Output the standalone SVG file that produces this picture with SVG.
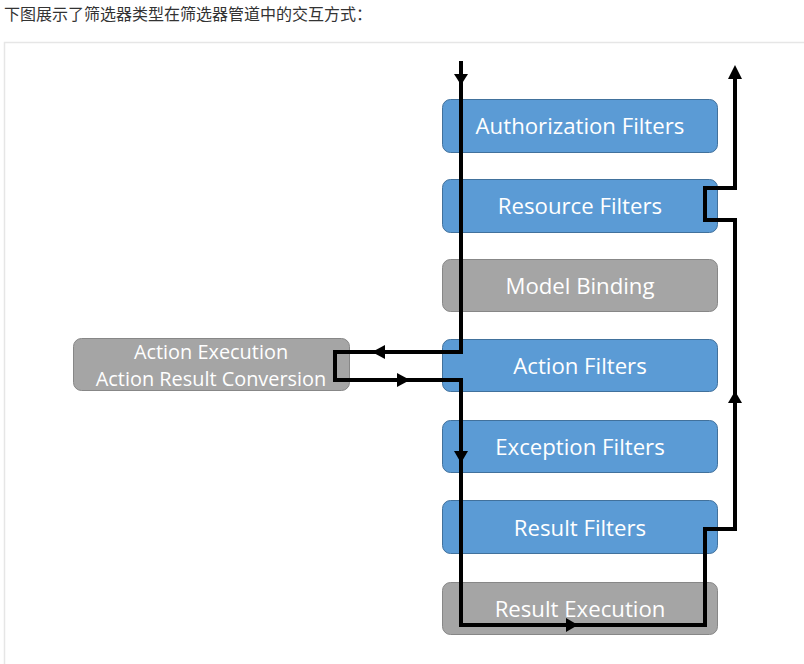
<svg xmlns="http://www.w3.org/2000/svg" width="804" height="664" viewBox="0 0 804 664">
<style>
.blue{fill:#5B9BD5;stroke:#41719C;stroke-width:1}
.gray{fill:#A5A5A5;stroke:#878787;stroke-width:1}
.lbl{font-family:"Open Sans","Noto Sans","Liberation Sans",sans-serif;font-size:22.2px;fill:#fff;text-anchor:middle}
.lbl2{font-family:"Open Sans","Noto Sans","Liberation Sans",sans-serif;font-size:19.9px;fill:#fff;text-anchor:middle}
.flow{fill:none;stroke:#000;stroke-width:4;stroke-linejoin:miter}
</style>
<rect x="0" y="0" width="804" height="664" fill="#fff"/>
<rect x="4.5" y="42.5" width="820" height="640" fill="#fff" stroke="#e6e6e6" stroke-width="1.5"/>
<text x="4" y="20" font-family="'Noto Sans CJK SC',sans-serif" font-size="16" fill="#333">下图展示了筛选器类型在筛选器管道中的交互方式：</text>

<g id="authorization"><rect class="blue" x="442.5" y="99.5" width="275" height="53" rx="8"/><text class="lbl" x="580" y="134">Authorization Filters</text></g>
<g id="resource"><rect class="blue" x="442.5" y="179.5" width="275" height="53" rx="8"/><text class="lbl" x="580" y="214">Resource Filters</text></g>
<g id="model"><rect class="gray" x="442.5" y="259.5" width="275" height="52" rx="8"/><text class="lbl" x="580" y="294">Model Binding</text></g>
<g id="action"><rect class="blue" x="442.5" y="339.5" width="275" height="52" rx="8"/><text class="lbl" x="580" y="374">Action Filters</text></g>
<g id="exception"><rect class="blue" x="442.5" y="420.5" width="275" height="52" rx="8"/><text class="lbl" x="580" y="455">Exception Filters</text></g>
<g id="resultfilters"><rect class="blue" x="442.5" y="500.5" width="275" height="53" rx="8"/><text class="lbl" x="580" y="536">Result Filters</text></g>
<g id="resultexec"><rect class="gray" x="442.5" y="582.5" width="275" height="52" rx="8"/><text class="lbl" x="580" y="617">Result Execution</text></g>
<g id="actionexec"><rect class="gray" x="73.5" y="338.5" width="276" height="52" rx="8"/><text class="lbl2" x="211" y="359">Action Execution</text><text class="lbl2" x="211" y="386">Action Result Conversion</text></g>

<g id="connectors">
<path class="flow" d="M461,61 L461,352 L335,352 L335,380 L461,380 L461,625 L705,625 L705,529 L735,529 L735,220 L705,220 L705,188 L735,188 L735,78"/>
<path d="M728,79 L735,65 L742,79 Z" fill="#000"/>
<path d="M454,74 L461,85 L468,74 Z" fill="#000"/>
<path d="M385,345 L372,352 L385,359 Z" fill="#000"/>
<path d="M397,373 L410,380 L397,387 Z" fill="#000"/>
<path d="M454,451 L461,463 L468,451 Z" fill="#000"/>
<path d="M566,618 L578,625 L566,632 Z" fill="#000"/>
<path d="M728,403 L735,391 L742,403 Z" fill="#000"/>
</g>
</svg>
